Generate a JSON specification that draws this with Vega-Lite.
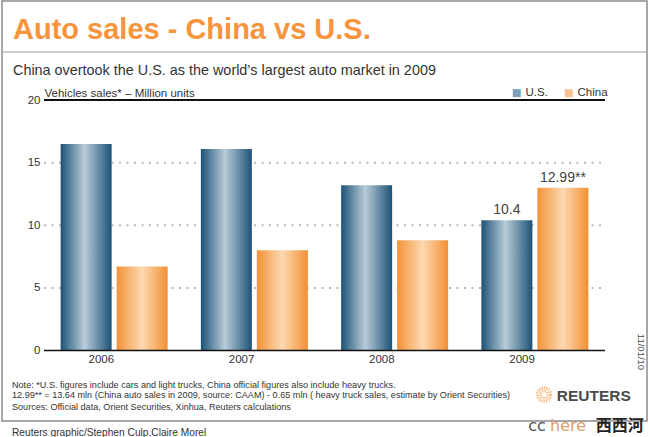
{
  "$schema": "https://vega.github.io/schema/vega-lite/v6.json",
  "width": 645,
  "height": 420,
  "autosize": {"type": "none"},
  "padding": {"left": 2, "top": 1, "right": 3, "bottom": 16},
  "background": "white",
  "config": {
    "font": "Liberation Sans",
    "view": {"stroke": "#8c8c8c", "strokeWidth": 1.5},
    "text": {"font": "Liberation Sans"}
  },
  "title": {
    "text": "Auto sales - China vs U.S.",
    "subtitle": "China overtook the U.S. as the world’s largest auto market in 2009",
    "anchor": "start",
    "frame": "group",
    "orient": "top",
    "offset": -76,
    "dx": 11,
    "font": "Liberation Sans",
    "fontSize": 29,
    "fontWeight": "bold",
    "color": "#f7943c",
    "subtitleFont": "Liberation Sans",
    "subtitleFontSize": 14.4,
    "subtitleColor": "#333333",
    "subtitlePadding": 19
  },
  "data": {
    "values": [
      {"year": "2006", "country": "U.S.", "sales": 16.5},
      {"year": "2006", "country": "China", "sales": 6.7},
      {"year": "2007", "country": "U.S.", "sales": 16.1},
      {"year": "2007", "country": "China", "sales": 8.0},
      {"year": "2008", "country": "U.S.", "sales": 13.2},
      {"year": "2008", "country": "China", "sales": 8.8},
      {"year": "2009", "country": "U.S.", "sales": 10.4, "label": "10.4"},
      {"year": "2009", "country": "China", "sales": 12.99, "label": "12.99**"}
    ]
  },
  "layer": [
    {
      "data": {"values": [{"g": 5}, {"g": 10}, {"g": 15}]},
      "mark": {"type": "rule", "color": "#b8b8b8", "strokeWidth": 2, "strokeDash": [2, 5.5]},
      "encoding": {
        "y": {
          "field": "g", "type": "quantitative", "scale": {"domain": [-5.631, 27.915], "nice": false},
          "axis": {
            "orient": "left", "offset": -41, "values": [0, 5, 10, 15, 20], "grid": false, "domain": false, "ticks": false,
            "labelPadding": 3, "labelFontSize": 11.5, "labelColor": "#333333", "labelFont": "Liberation Sans",
            "title": "Vehicles sales* – Million units", "titleAngle": 0, "titleAlign": "left", "titleBaseline": "alphabetic",
            "titleX": 1, "titleY": 95, "titleFontSize": 11.5, "titleFontWeight": "normal", "titleColor": "#333333", "titleFont": "Liberation Sans"
          }
        },
        "x": {"datum": "2006", "bandPosition": 0, "scale": {"domain": ["2006", "2007", "2008", "2009"], "paddingOuter": 0.2995, "paddingInner": 0}},
        "x2": {"datum": "2009", "bandPosition": 1}
      }
    },
    {
      "transform": [{"filter": "datum.country === 'U.S.'"}],
      "mark": {
        "type": "bar",
        "fill": {
          "gradient": "linear", "x1": 0, "y1": 0, "x2": 1, "y2": 0,
          "stops": [
            {"offset": 0, "color": "#1c5277"},
            {"offset": 0.47, "color": "#b9ccd9"},
            {"offset": 1, "color": "#1c5277"}
          ]
        }
      },
      "encoding": {
        "x": {
          "field": "year", "type": "nominal",
          "scale": {"domain": ["2006", "2007", "2008", "2009"], "paddingOuter": 0.2995, "paddingInner": 0},
          "axis": {"orient": "bottom", "offset": -71, "title": null, "ticks": false, "domain": false, "labelAngle": 0, "labelFontSize": 11.5, "labelColor": "#333333", "labelPadding": 9, "labelFont": "Liberation Sans"}
        },
        "xOffset": {"field": "country", "type": "nominal", "scale": {"domain": ["U.S.", "China"], "paddingInner": 0.0893, "paddingOuter": 0.2969}},
        "y": {
          "field": "sales", "type": "quantitative",
          "scale": {"domain": [-5.631, 27.915], "nice": false},
          "axis": {
            "orient": "left", "offset": -41, "values": [0, 5, 10, 15, 20], "grid": false, "domain": false, "ticks": false,
            "labelPadding": 3, "labelFontSize": 11.5, "labelColor": "#333333", "labelFont": "Liberation Sans",
            "title": "Vehicles sales* – Million units", "titleAngle": 0, "titleAlign": "left", "titleBaseline": "alphabetic",
            "titleX": 1, "titleY": 95, "titleFontSize": 11.5, "titleFontWeight": "normal", "titleColor": "#333333", "titleFont": "Liberation Sans"
          }
        }
      }
    },
    {
      "transform": [{"filter": "datum.country === 'China'"}],
      "mark": {
        "type": "bar",
        "fill": {
          "gradient": "linear", "x1": 0, "y1": 0, "x2": 1, "y2": 0,
          "stops": [
            {"offset": 0, "color": "#f39237"},
            {"offset": 0.5, "color": "#fcd9b2"},
            {"offset": 1, "color": "#f29033"}
          ]
        }
      },
      "encoding": {
        "x": {"field": "year", "type": "nominal", "scale": {"domain": ["2006", "2007", "2008", "2009"], "paddingOuter": 0.2995, "paddingInner": 0}},
        "xOffset": {"field": "country", "type": "nominal", "scale": {"domain": ["U.S.", "China"], "paddingInner": 0.0893, "paddingOuter": 0.2969}},
        "y": {
          "field": "sales", "type": "quantitative", "scale": {"domain": [-5.631, 27.915], "nice": false},
          "axis": {
            "orient": "left", "offset": -41, "values": [0, 5, 10, 15, 20], "grid": false, "domain": false, "ticks": false,
            "labelPadding": 3, "labelFontSize": 11.5, "labelColor": "#333333", "labelFont": "Liberation Sans",
            "title": "Vehicles sales* – Million units", "titleAngle": 0, "titleAlign": "left", "titleBaseline": "alphabetic",
            "titleX": 1, "titleY": 95, "titleFontSize": 11.5, "titleFontWeight": "normal", "titleColor": "#333333", "titleFont": "Liberation Sans"
          }
        }
      }
    },
    {
      "transform": [{"filter": "datum.label != null"}],
      "mark": {"type": "text", "baseline": "alphabetic", "dy": -6, "fontSize": 14, "color": "#444444"},
      "encoding": {
        "x": {"field": "year", "type": "nominal"},
        "xOffset": {"field": "country", "type": "nominal"},
        "y": {
          "field": "sales", "type": "quantitative",
          "axis": {
            "orient": "left", "offset": -41, "values": [0, 5, 10, 15, 20], "grid": false, "domain": false, "ticks": false,
            "labelPadding": 3, "labelFontSize": 11.5, "labelColor": "#333333", "labelFont": "Liberation Sans",
            "title": "Vehicles sales* – Million units", "titleAngle": 0, "titleAlign": "left", "titleBaseline": "alphabetic",
            "titleX": 1, "titleY": 95, "titleFontSize": 11.5, "titleFontWeight": "normal", "titleColor": "#333333", "titleFont": "Liberation Sans"
          }
        },
        "text": {"field": "label"}
      }
    },
    {
      "data": {"values": [{}]},
      "mark": {"type": "rule", "color": "#111111", "strokeWidth": 2},
      "encoding": {
        "y": {"datum": 20},
        "x": {"datum": "2006", "bandPosition": 0},
        "x2": {"datum": "2009", "bandPosition": 1}
      }
    },
    {
      "data": {"values": [{}]},
      "mark": {"type": "rule", "color": "#111111", "strokeWidth": 1.5},
      "encoding": {
        "y": {"datum": 0},
        "x": {"datum": "2006", "bandPosition": 0},
        "x2": {"datum": "2009", "bandPosition": 1}
      }
    },
    {
      "data": {"values": [{}]},
      "mark": {"type": "rule", "color": "#9a9a9a", "strokeWidth": 1},
      "encoding": {"y": {"datum": 23.84}}
    },
    {
      "transform": [{"filter": "false"}],
      "mark": {"type": "square", "size": 64},
      "encoding": {
        "color": {
          "field": "country", "type": "nominal",
          "scale": {"domain": ["U.S.", "China"], "range": ["#4b7797", "#f6a760"]},
          "legend": {
            "orient": "none", "legendX": 509, "legendY": 86, "direction": "horizontal", "title": null,
            "labelFontSize": 11.5, "labelColor": "#333333", "labelFont": "Liberation Sans", "symbolType": "square", "symbolSize": 64,
            "symbolStrokeWidth": 0, "labelOffset": 3, "columnPadding": 15, "padding": 0
          }
        }
      }
    },
    {
      "data": {"values": [{}]},
      "mark": {"type": "text", "align": "left", "baseline": "alphabetic", "fontSize": 9.1, "color": "#333333"},
      "encoding": {
        "x": {"datum": "2006", "bandPosition": -0.2282},
        "y": {"datum": -2.995},
        "text": {"value": "Note: *U.S. figures include cars and light trucks, China official figures also include heavy trucks."}
      }
    },
    {
      "data": {"values": [{}]},
      "mark": {"type": "text", "align": "left", "baseline": "alphabetic", "fontSize": 9.1, "color": "#333333"},
      "encoding": {
        "x": {"datum": "2006", "bandPosition": -0.2282},
        "y": {"datum": -3.794},
        "text": {"value": "12.99** = 13.64 mln (China auto sales in 2009, source: CAAM) - 0.65 mln ( heavy truck sales, estimate by Orient Securities)"}
      }
    },
    {
      "data": {"values": [{}]},
      "mark": {"type": "text", "align": "left", "baseline": "alphabetic", "fontSize": 9.1, "color": "#333333"},
      "encoding": {
        "x": {"datum": "2006", "bandPosition": -0.2282},
        "y": {"datum": -4.776},
        "text": {"value": "Sources: Official data, Orient Securities, Xinhua, Reuters calculations"}
      }
    },
    {
      "data": {"values": [{}]},
      "mark": {"type": "text", "align": "left", "baseline": "alphabetic", "fontSize": 10.2, "color": "#333333"},
      "encoding": {
        "x": {"datum": "2006", "bandPosition": -0.2282},
        "y": {"datum": -6.853},
        "text": {"value": "Reuters graphic/Stephen Culp,Claire Morel"}
      }
    },
    {
      "data": {"values": [{}]},
      "mark": {"type": "text", "align": "center", "baseline": "middle", "angle": 90, "fontSize": 9.5, "color": "#444444"},
      "encoding": {
        "x": {"datum": "2009", "bandPosition": 1.26},
        "y": {"datum": -0.12},
        "text": {"value": "11/01/10"}
      }
    },
    {
      "data": {"values": [{}]},
      "mark": {"type": "point", "shape": "circle", "filled": false, "size": 177, "stroke": "#f39539", "strokeWidth": 3, "strokeDash": [1.2, 1.2]},
      "encoding": {"x": {"datum": "2009", "bandPosition": 0.565}, "y": {"datum": -3.514}}
    },
    {
      "data": {"values": [{}]},
      "mark": {"type": "point", "shape": "circle", "filled": false, "size": 50, "stroke": "#f39539", "strokeWidth": 2.5, "strokeDash": [1.2, 1.2]},
      "encoding": {"x": {"datum": "2009", "bandPosition": 0.565}, "y": {"datum": -3.514}}
    },
    {
      "data": {"values": [{}]},
      "mark": {"type": "text", "align": "left", "baseline": "alphabetic", "fontSize": 15.5, "fontWeight": "bold", "color": "#4a4a4a"},
      "encoding": {
        "x": {"datum": "2009", "bandPosition": 0.6556},
        "y": {"datum": -4.034},
        "text": {"value": "REUTERS"}
      }
    },
    {
      "data": {"values": [{}]},
      "mark": {"type": "text", "align": "left", "baseline": "alphabetic", "fontSize": 16, "font": "DejaVu Sans", "color": "#555555"},
      "encoding": {
        "x": {"datum": "2009", "bandPosition": 0.453},
        "y": {"datum": -6.43},
        "text": {"value": "cc"}
      }
    },
    {
      "data": {"values": [{}]},
      "mark": {"type": "text", "align": "left", "baseline": "alphabetic", "fontSize": 16, "font": "DejaVu Sans", "color": "#d9a06c"},
      "encoding": {
        "x": {"datum": "2009", "bandPosition": 0.608},
        "y": {"datum": -6.43},
        "text": {"value": "here"}
      }
    },
    {
      "data": {"values": [{}]},
      "mark": {"type": "text", "align": "left", "baseline": "alphabetic", "fontSize": 16, "font": "Noto Sans CJK SC", "fontWeight": "bold", "color": "#222222"},
      "encoding": {
        "x": {"datum": "2009", "bandPosition": 0.934},
        "y": {"datum": -6.43},
        "text": {"value": "西西河"}
      }
    }
  ]
}
